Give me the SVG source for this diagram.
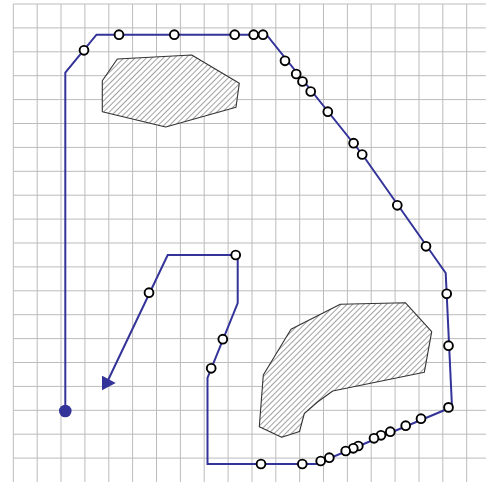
<svg xmlns="http://www.w3.org/2000/svg" width="486" height="482" viewBox="0 0 486 482">
<style>
.grid{stroke:#bcbcbc;stroke-width:1;fill:none}
.obst{fill:url(#hatch);stroke:#333;stroke-width:1.1;stroke-linejoin:round}
.route{fill:none;stroke:#333399;stroke-width:2;stroke-linejoin:miter}
.node{fill:#fff;stroke:#000;stroke-width:1.9}
</style>
<defs>
<pattern id="hatch" patternUnits="userSpaceOnUse" width="4" height="4" patternTransform="rotate(45)">
<rect width="4" height="4" fill="#fff"/>
<line x1="0" y1="0" x2="0" y2="4" stroke="#444" stroke-width="1"/>
</pattern>
<marker id="arrow" markerUnits="userSpaceOnUse" viewBox="0 0 14 15" markerWidth="14" markerHeight="15" refX="5" refY="7.5" orient="0">
<path d="M0,0 L14,7.6 L0,15 Z" fill="#333399"/>
</marker>
</defs>
<rect width="486" height="482" fill="#fff"/>
<g id="grid" class="grid">
<path d="M13.3,4V482M37.2,4V482M61,4V482M84.9,4V482M108.8,4V482M132.6,4V482M156.5,4V482M180.4,4V482M204.2,4V482M228.1,4V482M252,4V482M275.8,4V482M299.7,4V482M323.5,4V482M347.4,4V482M371.2,4V482M395.1,4V482M419,4V482M442.8,4V482M466.7,4V482"/>
<path d="M13.3,4H486M13.3,27.9H486M13.3,51.8H486M13.3,75.7H486M13.3,99.6H486M13.3,123.5H486M13.3,147.4H486M13.3,171.3H486M13.3,195.2H486M13.3,219.1H486M13.3,243H486M13.3,266.9H486M13.3,290.8H486M13.3,314.7H486M13.3,338.6H486M13.3,362.5H486M13.3,386.4H486M13.3,410.3H486M13.3,434.2H486M13.3,458.1H486"/>
</g>
<g id="obstacle1"><polygon class="obst" points="117.3,59 191.7,55 239.3,83.3 236,107.3 165.7,127 102.3,111.7 102.3,80.7"/></g>
<g id="obstacle2"><polygon class="obst" points="340.3,304.3 405.3,302.7 431.7,331.7 424.3,372.3 332.7,391 317.5,402 304.3,413.5 299.5,431.5 281.7,437.3 259.3,426.7 263.3,375 291,329.3"/></g>
<g id="connectors">
<path class="route" marker-end="url(#arrow)" d="M65.3,411 V72.7 L96.5,34.7 H266.5 L362,154 L445.7,273 L452,407 L316,464 H207.5 V378 L237.7,303 V255 H167.7 L106.7,383"/>
</g>
<g id="start"><circle cx="65.3" cy="411" r="6.3" fill="#333399"/></g>
<g id="n1"><circle class="node" cx="84" cy="50.3" r="4.4"/></g>
<g id="n2"><circle class="node" cx="119" cy="34.7" r="4.4"/></g>
<g id="n3"><circle class="node" cx="174.3" cy="34.7" r="4.4"/></g>
<g id="n4"><circle class="node" cx="234.7" cy="34.7" r="4.4"/></g>
<g id="n5"><circle class="node" cx="253.7" cy="34.7" r="4.4"/></g>
<g id="n6"><circle class="node" cx="263" cy="34.7" r="4.4"/></g>
<g id="n7"><circle class="node" cx="285" cy="60.8" r="4.4"/></g>
<g id="n8"><circle class="node" cx="296.2" cy="74" r="4.4"/></g>
<g id="n9"><circle class="node" cx="302.5" cy="81.5" r="4.4"/></g>
<g id="n10"><circle class="node" cx="310.7" cy="91.5" r="4.4"/></g>
<g id="n11"><circle class="node" cx="327.8" cy="111.7" r="4.4"/></g>
<g id="n12"><circle class="node" cx="353.6" cy="143.2" r="4.4"/></g>
<g id="n13"><circle class="node" cx="362.2" cy="154.5" r="4.4"/></g>
<g id="n14"><circle class="node" cx="397.3" cy="205.3" r="4.4"/></g>
<g id="n15"><circle class="node" cx="426" cy="246.3" r="4.4"/></g>
<g id="n16"><circle class="node" cx="446.7" cy="293.8" r="4.4"/></g>
<g id="n17"><circle class="node" cx="448.5" cy="345.7" r="4.4"/></g>
<g id="n18"><circle class="node" cx="448.5" cy="407.4" r="4.4"/></g>
<g id="n19"><circle class="node" cx="421" cy="418.7" r="4.4"/></g>
<g id="n20"><circle class="node" cx="405.7" cy="425.7" r="4.4"/></g>
<g id="n21"><circle class="node" cx="390.3" cy="431.7" r="4.4"/></g>
<g id="n22"><circle class="node" cx="381" cy="435.3" r="4.4"/></g>
<g id="n23"><circle class="node" cx="374" cy="438.3" r="4.4"/></g>
<g id="n24"><circle class="node" cx="358.3" cy="446" r="4.4"/></g>
<g id="n25"><circle class="node" cx="353.3" cy="448.3" r="4.4"/></g>
<g id="n26"><circle class="node" cx="345.7" cy="451" r="4.4"/></g>
<g id="n27"><circle class="node" cx="329.3" cy="457.7" r="4.4"/></g>
<g id="n28"><circle class="node" cx="320.7" cy="461" r="4.4"/></g>
<g id="n29"><circle class="node" cx="302.3" cy="464" r="4.4"/></g>
<g id="n30"><circle class="node" cx="261" cy="464" r="4.4"/></g>
<g id="n31"><circle class="node" cx="211.2" cy="368.3" r="4.4"/></g>
<g id="n32"><circle class="node" cx="222.8" cy="339.2" r="4.4"/></g>
<g id="n33"><circle class="node" cx="235.7" cy="255" r="4.4"/></g>
<g id="n34"><circle class="node" cx="149" cy="292.7" r="4.4"/></g>
</svg>
